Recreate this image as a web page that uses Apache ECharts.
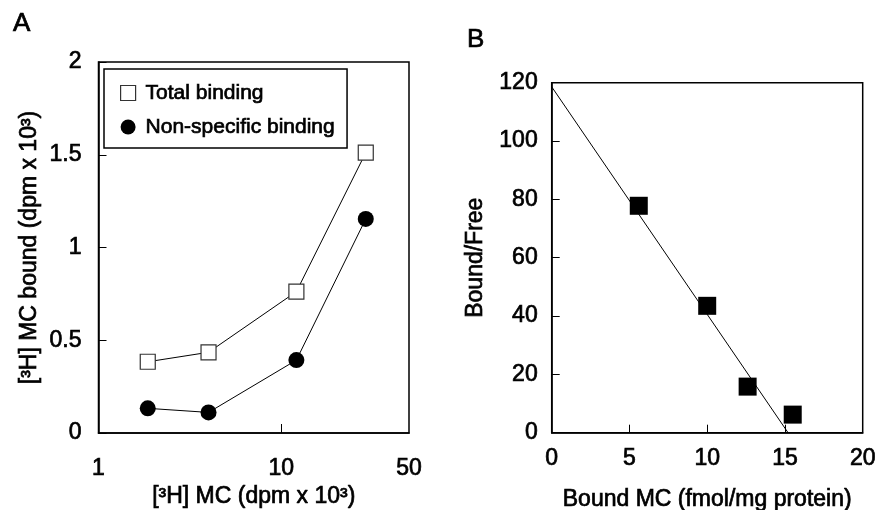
<!DOCTYPE html>
<html>
<head>
<meta charset="utf-8">
<script src="https://cdn.jsdelivr.net/npm/echarts@6/dist/echarts.min.js"></script>
<style>
html,body{margin:0;padding:0;background:#fff;}
#chart{width:877px;height:510px;}
</style>
</head>
<body>
<div id="chart"></div>
<script>
// Panel A data
const aX = [1.86, 4.0, 12.1, 29.0];
const aTotal = [0.384, 0.435, 0.762, 1.511];
const aNonSpec = [0.133, 0.111, 0.393, 1.154];
const aXLabels = [1, 10, 50];
const aXTicks = [10];
// Panel B data
const bX = [5.6, 10.0, 12.6, 15.5];
const bY = [77.8, 43.5, 15.8, 6.2];
const bFitX = [0, 15.2];
const bFitY = [118.6, 0];

const FONT = 'Liberation Sans';
const chart = echarts.init(document.getElementById('chart'));
const pair = (xs, ys) => xs.map((x, i) => [x, ys[i]]);
const thick = {textBorderColor:'#000', textBorderWidth:0.7};
const tickLbl = {color:'#000', fontFamily:FONT, fontSize:23, ...thick};
const nameStyle = {color:'#000', fontFamily:FONT, fontSize:23, ...thick};

chart.setOption({
  animation:false,
  backgroundColor:'#fff',
  title:[
    {text:'A', left:13, top:11, padding:0, textStyle:{fontFamily:FONT, fontSize:26, fontWeight:'normal', color:'#000', ...thick}},
    {text:'B', left:467, top:27, padding:0, textStyle:{fontFamily:FONT, fontSize:26, fontWeight:'normal', color:'#000', ...thick}}
  ],
  grid:[
    {left:98.5, top:62, width:310.5, height:371, show:true, borderColor:'#000', borderWidth:1.5, backgroundColor:'transparent', outerBoundsMode:'none', containLabel:false},
    {left:551.7, top:82.7, width:311, height:350, show:true, borderColor:'#000', borderWidth:1.5, backgroundColor:'transparent', outerBoundsMode:'none', containLabel:false}
  ],
  legend:{
    left:104, top:69, orient:'vertical', itemWidth:15, itemHeight:15,
    borderColor:'#000', borderWidth:1.5, padding:[13, 12, 10, 16], itemGap:12,
    textStyle:{fontFamily:FONT, fontSize:21, color:'#000', lineHeight:22, padding:[0,0,0,5], ...thick},
    data:[
      {name:'Total binding', icon:'rect', itemStyle:{color:'#fff', borderColor:'#333', borderWidth:1.2}},
      {name:'Non-specific binding', icon:'circle', itemStyle:{color:'#000'}}
    ]
  },
  xAxis:[
    {type:'log', gridIndex:0, min:1, max:50, logBase:10,
     axisLine:{lineStyle:{color:'#000', width:1.5}},
     axisTick:{inside:true, length:9, lineStyle:{color:'#000'}, customValues:aXTicks},
     axisLabel:{...tickLbl, margin:24, customValues:aXLabels},
     splitLine:{show:false},
     name:'[³H] MC (dpm x 10³)', nameLocation:'middle', nameGap:50, nameTextStyle:nameStyle},
    {type:'value', gridIndex:1, min:0, max:20, interval:5,
     axisLine:{lineStyle:{color:'#000', width:1.5}},
     axisTick:{inside:true, length:8, lineStyle:{color:'#000'}},
     axisLabel:{...tickLbl, margin:14},
     splitLine:{show:false},
     name:'Bound MC (fmol/mg protein)', nameLocation:'middle', nameGap:55, nameTextStyle:nameStyle}
  ],
  yAxis:[
    {type:'value', gridIndex:0, min:0, max:2, interval:0.5,
     axisLine:{lineStyle:{color:'#000', width:1.5}},
     axisTick:{inside:true, length:8, lineStyle:{color:'#000'}},
     axisLabel:{...tickLbl, margin:17},
     splitLine:{show:false},
     name:'[³H] MC bound (dpm x 10³)', nameLocation:'middle', nameGap:57, nameTextStyle:nameStyle},
    {type:'value', gridIndex:1, min:0, max:120, interval:20,
     axisLine:{lineStyle:{color:'#000', width:1.5}},
     axisTick:{inside:true, length:8, lineStyle:{color:'#000'}},
     axisLabel:{...tickLbl, margin:14},
     splitLine:{show:false},
     name:'Bound/Free', nameLocation:'middle', nameGap:65, nameTextStyle:nameStyle}
  ],
  series:[
    {name:'Total binding', type:'line', xAxisIndex:0, yAxisIndex:0, data:pair(aX, aTotal),
     symbol:'rect', symbolSize:15, lineStyle:{color:'#000', width:1},
     itemStyle:{color:'#fff', borderColor:'#333', borderWidth:1.2}, z:3},
    {name:'Non-specific binding', type:'line', xAxisIndex:0, yAxisIndex:0, data:pair(aX, aNonSpec),
     symbol:'circle', symbolSize:16, lineStyle:{color:'#000', width:1},
     itemStyle:{color:'#000'}, z:3},
    {name:'fit', type:'line', xAxisIndex:1, yAxisIndex:1, data:pair(bFitX, bFitY),
     symbol:'none', lineStyle:{color:'#000', width:1}, z:2},
    {name:'Scatchard', type:'scatter', xAxisIndex:1, yAxisIndex:1, data:pair(bX, bY),
     symbol:'rect', symbolSize:18, itemStyle:{color:'#000', opacity:1}, z:3}
  ]
});
</script>
</body>
</html>
